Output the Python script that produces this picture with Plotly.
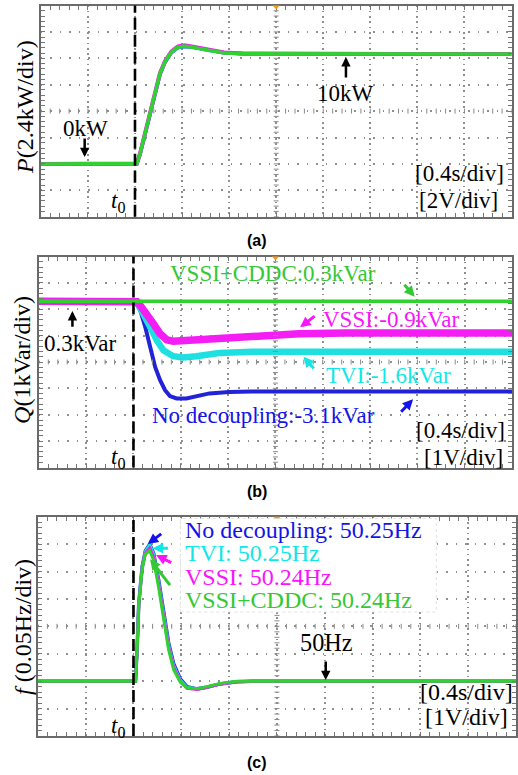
import numpy as np
import plotly.graph_objects as go

W, H = 518, 775
SERIF = "Liberation Serif, Times New Roman, serif"
SANS = "Liberation Sans, Arial, sans-serif"

BLUE = "#2222d6"
CYAN = "#1fe0e0"
MAGENTA = "#f41ef4"
GREEN = "#2fd22f"
TXT_BLUE = "#1414e8"
TXT_CYAN = "#12e6e6"
TXT_MAG = "#fa14fa"
TXT_GREEN = "#34c834"

# ---------------- data ----------------
# (a) active power P in kW, time in s
T_P = [0, 0.4, 0.8, 0.816, 0.844, 0.886, 0.928, 0.970, 1.012, 1.054, 1.110,
       1.166, 1.222, 1.306, 1.417, 1.557, 1.725, 2.2, 3.0, 4.0]
P_blue = [0, 0, 0, 0.02, 0.90, 2.70, 4.50, 6.30, 8.10, 9.20, 10.12,
          10.58, 10.68, 10.57, 10.33, 10.10, 10.02, 10.0, 10.0, 10.0]
P_cyan = [0, 0, 0, 0.03, 0.95, 2.75, 4.55, 6.35, 8.15, 9.25, 10.15,
          10.60, 10.70, 10.58, 10.33, 10.10, 10.02, 10.0, 10.0, 10.0]
P_magenta = [0, 0, 0, 0.04, 1.00, 2.85, 4.65, 6.45, 8.25, 9.32, 10.22,
             10.68, 10.78, 10.62, 10.36, 10.12, 10.03, 10.0, 10.0, 10.0]
P_green = [0, 0, 0, 0.03, 0.97, 2.78, 4.59, 6.40, 8.21, 9.27, 10.17,
           10.62, 10.71, 10.57, 10.32, 10.08, 10.02, 10.0, 10.0, 10.0]

# (b) reactive power Q in kVar
T_Q_blue = [0, 0.8, 0.817, 0.858, 0.900, 0.942, 0.983, 1.025, 1.067, 1.108,
            1.164, 1.247, 1.331, 1.442, 1.608, 1.8, 2.5, 4.0]
Q_blue = [0.3, 0.3, 0.25, -0.05, -0.68, -1.43, -2.19, -2.69, -3.07, -3.29,
          -3.38, -3.38, -3.29, -3.19, -3.14, -3.12, -3.12, -3.12]
T_Q_cyan = [0, 0.8, 0.82, 0.844, 0.886, 0.942, 0.997, 1.053, 1.136, 1.219,
            1.331, 1.525, 1.803, 2.3, 4.0]
Q_cyan = [0.3, 0.3, 0.28, 0.14, -0.17, -0.68, -1.18, -1.56, -1.78, -1.83,
          -1.78, -1.66, -1.61, -1.61, -1.61]
T_Q_magenta = [0, 0.8, 0.83, 0.858, 0.914, 0.969, 1.025, 1.081, 1.136, 1.247,
               1.386, 1.525, 1.803, 2.2, 2.6, 4.0]
Q_magenta = [0.3, 0.3, 0.28, 0.14, -0.17, -0.55, -0.93, -1.16, -1.21, -1.18,
             -1.12, -1.06, -0.99, -0.93, -0.9, -0.9]
T_Q_green = [0, 0.8, 2.0, 4.0]
Q_green = [0.3, 0.3, 0.3, 0.3]

# (c) frequency f in Hz
T_F = [0, 0.8, 0.817, 0.831, 0.844, 0.872, 0.900, 0.936, 0.969, 1.011, 1.053,
       1.094, 1.136, 1.192, 1.247, 1.331, 1.414, 1.525, 1.664, 1.8, 4.0]
F_blue = [50, 50, 50.0, 50.062, 50.141, 50.208, 50.238, 50.250, 50.233, 50.184,
          50.124, 50.070, 50.032, 50.004, 49.990, 49.986, 49.989, 49.995, 49.999, 50, 50]
F_cyan = [50, 50, 50.0, 50.062, 50.141, 50.207, 50.237, 50.249, 50.231, 50.181,
          50.121, 50.067, 50.029, 50.002, 49.989, 49.986, 49.989, 49.995, 49.999, 50, 50]
F_magenta = [50, 50, 50.0, 50.060, 50.139, 50.205, 50.234, 50.243, 50.226, 50.176,
             50.116, 50.062, 50.025, 49.999, 49.987, 49.985, 49.989, 49.995, 49.999, 50, 50]
F_green = [50, 50, 50.0, 50.060, 50.139, 50.204, 50.232, 50.238, 50.220, 50.170,
           50.110, 50.057, 50.021, 49.998, 49.988, 49.986, 49.990, 49.996, 50.0, 50, 50]

# axis settings: 10 x divisions of 0.4 s, 8 y divisions
X_RANGE = [0, 4.0]
X_DIV = 0.4
T0 = 0.8
Y_RANGES = [[-4.8, 14.4], [-6.0, 2.0], [49.9, 50.3]]
Y_DIVS = [2.4, 1.0, 0.05]

# panel boxes in pixels (left, right, top, bottom)
BOXES = [(41, 513.5, 5.5, 216.7), (39, 514, 256.5, 467.5), (38, 518, 516.7, 736)]

def px(x):
    return x / W

def py(y):
    return 1 - y / H

fig = go.Figure()

series = [
    [(T_P, P_blue, BLUE, 3.5), (T_P, P_cyan, CYAN, 3.5), (T_P, P_magenta, MAGENTA, 4), (T_P, P_green, GREEN, 3.5)],
    [(T_Q_blue, Q_blue, BLUE, 4), (T_Q_cyan, Q_cyan, CYAN, 6.5), (T_Q_magenta, Q_magenta, MAGENTA, 7.5), (T_Q_green, Q_green, GREEN, 3.5)],
    [(T_F, F_blue, BLUE, 3.5), (T_F, F_cyan, CYAN, 3.0), (T_F, F_magenta, MAGENTA, 3.0), (T_F, F_green, GREEN, 3.0)],
]

layout = dict(width=W, height=H, margin=dict(l=0, r=0, t=0, b=0),
              paper_bgcolor="white", plot_bgcolor="white", showlegend=False)

shapes = []
for i, (box, yr, ydiv) in enumerate(zip(BOXES, Y_RANGES, Y_DIVS)):
    sfx = "" if i == 0 else str(i + 1)
    xa, ya = "x" + sfx, "y" + sfx
    l, r, t, b = box
    layout["xaxis" + sfx] = dict(
        domain=[px(l), px(r)], anchor=ya, range=X_RANGE, dtick=X_DIV, tick0=0,
        showgrid=True, gridcolor="#8f8f8f", gridwidth=1.6, griddash="1.6px,3.7px",
        showticklabels=False, ticks="inside", ticklen=4, tickcolor="#777", tickwidth=1,
        minor=dict(ticks="inside", ticklen=4, dtick=X_DIV / 5, tick0=0, tickcolor="#777", showgrid=False),
        showline=True, linecolor="#6a6a6a", linewidth=2, mirror="allticks", zeroline=False)
    layout["yaxis" + sfx] = dict(
        domain=[py(b), py(t)], anchor=xa, range=yr, dtick=ydiv, tick0=yr[0],
        showgrid=True, gridcolor="#8f8f8f", gridwidth=1.6, griddash="1.6px,7.9px",
        showticklabels=False, ticks="inside", ticklen=4, tickcolor="#777", tickwidth=1,
        minor=dict(ticks="inside", ticklen=4, dtick=ydiv / 5, tick0=yr[0], tickcolor="#777", showgrid=False),
        showline=True, linecolor="#6a6a6a", linewidth=2, mirror="allticks", zeroline=False)

    for (tx, vy, col, wd) in series[i]:
        fig.add_trace(go.Scatter(x=tx, y=vy, mode="lines", xaxis=xa, yaxis=ya,
                                 line=dict(color=col, width=wd), hoverinfo="skip"))

    # centre cross tick marks
    xc = (X_RANGE[0] + X_RANGE[1]) / 2
    yc = (yr[0] + yr[1]) / 2
    for xv in np.arange(X_RANGE[0], X_RANGE[1] + 1e-9, X_DIV / 5):
        shapes.append(dict(type="line", xref=xa, yref=ya, x0=xv, x1=xv,
                           ysizemode="pixel", yanchor=yc, y0=-2.5, y1=2.5,
                           line=dict(color="#8a8a8a", width=1)))
    for yv in np.arange(yr[0], yr[1] + 1e-9, ydiv / 5):
        shapes.append(dict(type="line", xref=xa, yref=ya, y0=yv, y1=yv,
                           xsizemode="pixel", xanchor=xc, x0=-2.5, x1=2.5,
                           line=dict(color="#8a8a8a", width=1)))
    # t0 dashed line
    shapes.append(dict(type="line", xref=xa, yref=ya + " domain", x0=T0, x1=T0, y0=0, y1=1,
                       line=dict(color="black", width=2.6, dash="12px,5px")))
    # orange trigger marker
    cx = (l + r) / 2
    shapes.append(dict(type="path", xref="paper", yref="paper",
                       path=f"M{px(cx-3.5)},{py(t)} L{px(cx+3.5)},{py(t)} L{px(cx)},{py(t+4)} Z",
                       fillcolor="#f29a1c", line=dict(width=0)))

# white legend block in panel (c) hiding the grid behind the labels
shapes.append(dict(type="rect", xref="paper", yref="paper", layer="above",
                   x0=px(181), x1=px(438), y0=py(612), y1=py(518.5),
                   fillcolor="white", line=dict(color="#e2e2e2", width=1, dash="dot")))

layout["shapes"] = shapes
fig.update_layout(**layout)

def text(x, y, s, color="black", anchor="center", size=23, family=SERIF, angle=0):
    fig.add_annotation(x=px(x), y=py(y), xref="paper", yref="paper", text=s,
                       showarrow=False, xanchor=anchor, yanchor="middle", textangle=angle,
                       font=dict(family=family, size=size, color=color), borderpad=0)

def arrow(tail, head, color="black", width=2.5, size=0.75):
    fig.add_annotation(x=px(head[0]), y=py(head[1]), xref="paper", yref="paper",
                       ax=tail[0] - head[0], ay=tail[1] - head[1], axref="pixel", ayref="pixel",
                       text="", showarrow=True, arrowhead=2, arrowsize=size,
                       arrowwidth=width, arrowcolor=color, standoff=0)

# ---- panel (a)
text(25, 107, "<i>P</i>(2.4kW/div)", size=24, angle=-90)
text(85.5, 128, "0kW")
arrow((85, 137), (85, 157))
text(347, 93, "10kW")
arrow((347.3, 79), (347.3, 57))
text(507, 173, "[0.4s/div]", anchor="right")
text(501, 201, "[2V/div]", anchor="right")
text(118, 202, "<i>t</i><sub>0</sub>")
text(258, 240, "<b>(a)</b>", size=16, family=SANS)

# ---- panel (b)
text(22, 360, "<i>Q</i>(1kVar/div)", size=24, angle=-90)
text(170, 273, "VSSI+CDDC:0.3kVar", color=TXT_GREEN, anchor="left")
arrow((404.7, 283.3), (416.3, 296.7), color=TXT_GREEN, width=3, size=0.7)
text(323, 320, "VSSI:-0.9kVar", color=TXT_MAG, anchor="left")
arrow((317.3, 315), (301.3, 327.3), color=TXT_MAG, width=3, size=0.7)
text(326, 375, "TVI:-1.6kVar", color=TXT_CYAN, anchor="left")
arrow((316.3, 370), (304.7, 356.7), color=TXT_CYAN, width=3, size=0.7)
text(151.7, 415, "No decoupling:-3.1kVar", color=TXT_BLUE, anchor="left")
arrow((401.3, 413.3), (414.7, 399.3), color=TXT_BLUE, width=3, size=0.7)
text(43, 343, "0.3kVar", anchor="left")
arrow((72.7, 328.3), (72.7, 311))
text(508, 430, "[0.4s/div]", anchor="right")
text(506, 457, "[1V/div]", anchor="right")
text(118.5, 458, "<i>t</i><sub>0</sub>")
text(258, 491, "<b>(b)</b>", size=16, family=SANS)

# ---- panel (c)
text(23, 627, "<i>f</i> (0.05Hz/div)", size=24, angle=-90)
text(185, 530, "No decoupling: 50.25Hz", color=TXT_BLUE, anchor="left", size=24)
text(185, 553, "TVI: 50.25Hz", color=TXT_CYAN, anchor="left", size=24)
text(185, 577, "VSSI: 50.24Hz", color=TXT_MAG, anchor="left", size=24)
text(185, 600, "VSSI+CDDC: 50.24Hz", color=TXT_GREEN, anchor="left", size=24)
arrow((163.3, 532.7), (148.3, 544), color=TXT_BLUE, width=3, size=0.7)
arrow((170, 548.3), (153.3, 548.3), color=TXT_CYAN, width=3, size=0.7)
arrow((173.3, 563.3), (156.7, 555), color=TXT_MAG, width=3, size=0.7)
arrow((171.7, 586.7), (150.7, 559.3), color=TXT_GREEN, width=3, size=0.7)
text(327.7, 642, "50Hz", size=24.3)
arrow((327, 660), (327, 680))
text(516, 692, "[0.4s/div]", anchor="right", size=24)
text(511, 717, "[1V/div]", anchor="right", size=24)
text(118.5, 727, "<i>t</i><sub>0</sub>")
text(258, 762, "<b>(c)</b>", size=16, family=SANS)

fig.write_html("out.html")
